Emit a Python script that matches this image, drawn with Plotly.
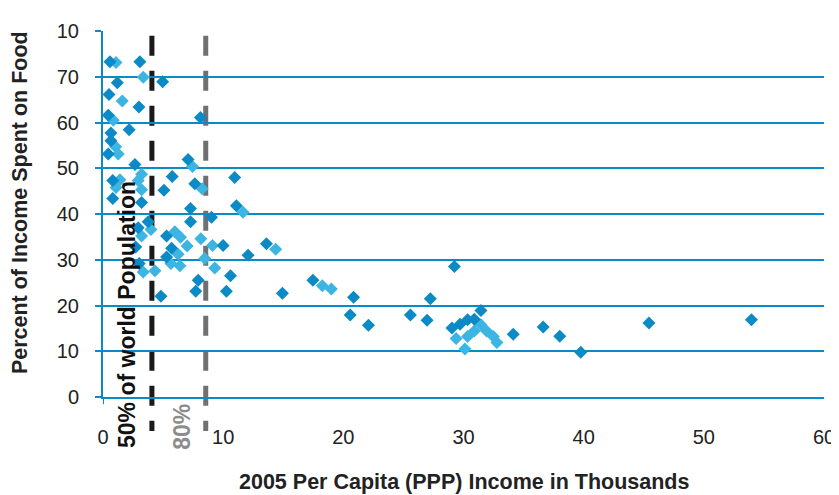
import plotly.graph_objects as go

# income (thousands, 2005 PPP) vs percent of income spent on food
dark_income = [0.58, 3.07, 1.19, 4.96, 0.50, 2.99, 0.44, 8.11, 2.18, 0.66,
               0.66, 0.44, 2.66, 7.08, 5.76, 0.81, 7.64, 5.07, 0.81, 3.21,
               7.28, 9.03, 3.76, 7.28, 2.93, 5.29, 2.72, 5.71, 5.29, 3.01,
               7.92, 7.72, 4.82, 9.99, 10.27, 10.96, 11.10, 10.61, 12.07, 13.60,
               14.93, 17.47, 20.85, 20.57, 22.09, 25.58, 26.97, 27.24, 29.24, 29.04,
               29.71, 30.34, 30.90, 31.45, 34.14, 36.63, 38.01, 39.76, 45.43, 53.96]
dark_food = [73.3, 73.3, 68.7, 68.9, 66.1, 63.4, 61.6, 61.1, 58.4, 57.7,
             56.0, 53.1, 50.8, 51.9, 48.2, 47.3, 46.6, 45.2, 43.4, 42.5,
             41.2, 39.3, 38.3, 38.3, 37.0, 35.2, 32.8, 32.5, 30.6, 29.2,
             25.5, 23.1, 22.0, 33.1, 23.1, 48.0, 41.8, 26.5, 31.0, 33.5,
             22.7, 25.5, 21.8, 17.9, 15.7, 17.9, 16.8, 21.5, 28.5, 15.1,
             15.9, 16.9, 17.0, 18.9, 13.7, 15.3, 13.3, 9.8, 16.2, 16.9]

light_income = [1.08, 3.35, 1.60, 0.86, 1.05, 1.27, 7.45, 3.21, 1.41, 2.93,
                1.08, 8.25, 3.21, 11.65, 3.21, 3.99, 5.98, 6.45, 8.14, 7.00,
                9.11, 6.25, 8.47, 5.65, 6.40, 3.35, 4.32, 9.30, 14.37, 18.25,
                19.00, 29.38, 30.34, 30.90, 31.45, 31.92, 32.48, 32.78, 30.12]
light_food = [73.1, 69.9, 64.7, 60.5, 54.7, 53.1, 50.4, 48.7, 47.5, 47.3,
              45.8, 45.5, 45.3, 40.4, 35.2, 36.6, 36.1, 34.9, 34.6, 33.0,
              33.1, 31.2, 30.3, 29.2, 28.7, 27.3, 27.6, 28.2, 32.3, 24.3,
              23.6, 12.8, 13.2, 14.4, 15.8, 14.4, 13.2, 11.9, 10.5]

# income at which 50% / 80% of world population is reached
income_50pct = 4.07
income_80pct = 8.55

y_tick_vals = [0, 10, 20, 30, 40, 50, 60, 70, 80]
y_tick_labels = ['0', '10', '20', '30', '40', '50', '60', '70', '10']
x_tick_vals = [0, 10, 20, 30, 40, 50, 60]

blue = '#0A8BC8'
dark_blue = '#0B8AC6'
light_blue = '#3CB5E2'
font = 'Liberation Sans, Arial, sans-serif'

fig = go.Figure()

fig.add_trace(go.Scatter(
    x=light_income, y=light_food, mode='markers',
    marker=dict(symbol='diamond', size=10, color=light_blue),
    name='light', showlegend=False
))
fig.add_trace(go.Scatter(
    x=dark_income, y=dark_food, mode='markers',
    marker=dict(symbol='diamond', size=10, color=dark_blue),
    name='dark', showlegend=False
))

# population threshold lines (run past the axis down to the labels)
for xv, col in [(income_50pct, '#1A1A1A'), (income_80pct, '#707070')]:
    fig.add_shape(type='line', xref='x', yref='paper',
                  x0=xv, x1=xv, y0=0.987, y1=-0.093,
                  line=dict(color=col, width=5, dash='20px,15px'),
                  layer='between')

# small tick under the origin
fig.add_shape(type='line', xref='x', yref='paper', x0=0, x1=0, y0=0, y1=-0.02,
              line=dict(color=blue, width=2))

fig.add_annotation(text='<b>50% of world Population</b>', xref='x', yref='paper',
                   x=2.0, y=-0.146, textangle=-90, showarrow=False,
                   xanchor='center', yanchor='bottom',
                   font=dict(family=font, size=23, color='#111111'))
fig.add_annotation(text='<b>80%</b>', xref='x', yref='paper',
                   x=6.55, y=-0.082, textangle=-90, showarrow=False,
                   xanchor='center', yanchor='middle',
                   font=dict(family=font, size=23, color='#8C8C8C'))

# axis titles
fig.add_annotation(text='<b>2005 Per Capita (PPP) Income in Thousands</b>',
                   xref='paper', yref='paper', x=0.5, y=-0.231, showarrow=False,
                   xanchor='center', yanchor='middle',
                   font=dict(family=font, size=21.5, color='#222222'))
fig.add_annotation(text='<b>Percent of Income Spent on Food</b>',
                   xref='paper', yref='paper', x=-0.115, y=0.53, showarrow=False,
                   textangle=-90, xanchor='center', yanchor='middle',
                   font=dict(family=font, size=21.5, color='#222222'))

# page body adds an 8px offset, so margins are shifted to compensate
fig.update_layout(
    width=839, height=495,
    margin=dict(l=95, r=21, t=12, b=106),
    plot_bgcolor='white', paper_bgcolor='white',
    font=dict(family=font, size=20, color='#222222'),
    showlegend=False
)

fig.update_xaxes(range=[0, 60], tickvals=x_tick_vals, showgrid=False,
                 showline=True, linecolor=blue, linewidth=2, zeroline=False,
                 ticks='', ticklabelstandoff=21, tickfont=dict(size=20))
fig.update_yaxes(range=[0, 80], tickvals=y_tick_vals, ticktext=y_tick_labels,
                 showgrid=True, gridcolor=blue, gridwidth=2,
                 showline=True, linecolor=blue, linewidth=2, zeroline=False,
                 ticks='outside', ticklen=6, tickcolor=blue, tickwidth=2,
                 ticklabelstandoff=12, tickfont=dict(size=20))

fig.write_html('out.html')
